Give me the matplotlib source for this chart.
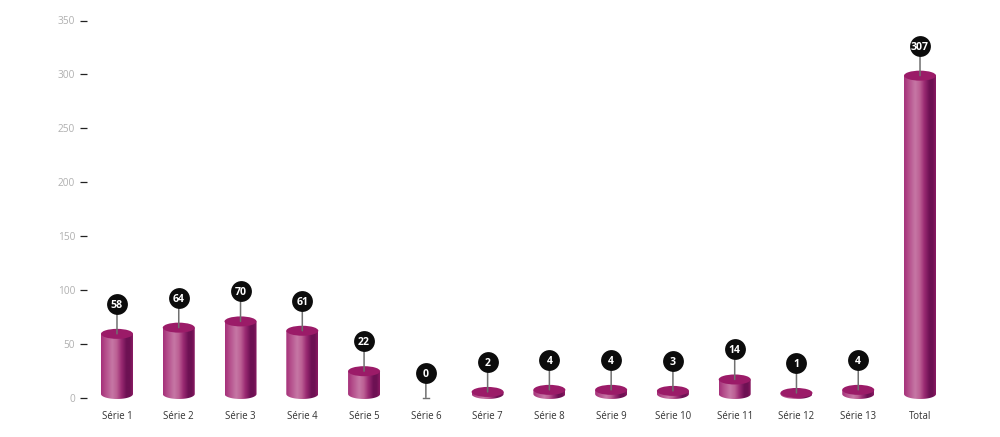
import numpy as np
import matplotlib
matplotlib.use("Agg")
import matplotlib.pyplot as plt
from matplotlib.colors import LinearSegmentedColormap
from matplotlib.patches import Ellipse, PathPatch
from matplotlib.path import Path
from matplotlib.transforms import ScaledTranslation

categories = ["Série 1", "Série 2", "Série 3", "Série 4", "Série 5", "Série 6", "Série 7",
              "Série 8", "Série 9", "Série 10", "Série 11", "Série 12", "Série 13", "Total"]
values = [58, 64, 70, 61, 22, 0, 2, 4, 4, 3, 14, 1, 4, 307]
yticks = [0, 50, 100, 150, 200, 250, 300, 350]

FAMILY = ["Open Sans", "DejaVu Sans"]
W, H = 1000, 437
fig = plt.figure(figsize=(W / 100, H / 100), dpi=100, facecolor="white")

def rect(x0, x1, ytop, ybot):
    return [x0 / W, 1 - ybot / H, (x1 - x0) / W, (ybot - ytop) / H]

# axis frame: 0 at y=398 px, 350 at y=21 px; category 0 at x=117 px
ax = fig.add_axes(rect(87, 950.9, 20.5, 397.5))
ax.set_xlim(-0.486, 13.5)
ax.set_ylim(0, 350)
for s in ax.spines.values():
    s.set_visible(False)
ax.set_yticks(yticks)
ax.set_xticks(range(len(categories)))
ax.set_xticklabels(categories, fontsize=6.9, color="#333333", family=FAMILY)
ax.tick_params(axis="x", length=0, pad=9.5)
ax.tick_params(axis="y", length=5, width=0.9, color="#222222", labelcolor="#b0b0b0",
               labelsize=7.3, pad=3.6)
for lab in ax.get_yticklabels():
    lab.set_family(FAMILY)

# cylinders sit on a slightly shorter scale (perspective): base centre at y=394 px
SCALE = 1.037
BELOW = 10
ax2 = fig.add_axes(rect(86.1, 950.9, 394 - 350 * SCALE, 394 + BELOW * SCALE))
ax2.set_xlim(-0.5, 13.5)
ax2.set_ylim(-BELOW, 350)
ax2.axis("off")
ax2.patch.set_alpha(0)

cmap = LinearSegmentedColormap.from_list("cyl", [
    (0.00, "#a5307a"), (0.15, "#b5508c"), (0.35, "#c677a5"), (0.50, "#bb5e93"),
    (0.64, "#9a2a72"), (0.80, "#6d1153"), (0.90, "#6d1153"), (1.00, "#8a1a62")])
grad = np.linspace(0, 1, 128)[None, :]

half_w = 16 / (864.8 / 14)
rx_y = 5 / SCALE
t = np.linspace(np.pi, 2 * np.pi, 40)
up30 = ScaledTranslation(0, 30 / 100, fig.dpi_scale_trans)
up24 = ScaledTranslation(0, 24.5 / 100, fig.dpi_scale_trans)
STEM = "#707070"
DISC = 225

def pin(axes, i, v, shift):
    tr = axes.transData + shift
    axes.annotate("", (i, v), xycoords="data", xytext=(i, v), textcoords=tr,
                  arrowprops=dict(arrowstyle="-", color=STEM, lw=1.1, shrinkA=0, shrinkB=0),
                  zorder=4, annotation_clip=False)
    axes.scatter([i], [v], s=DISC, color="#0c0c0c", linewidths=0, transform=tr,
                 clip_on=False, zorder=5)
    axes.text(i, v, str(v), transform=tr, ha="center", va="center_baseline", fontsize=7.6,
              fontweight="bold", color="white", family=FAMILY, zorder=6, clip_on=False)

for i, v in enumerate(values):
    if v == 0:
        pin(ax, i, v, up24)
        ax.plot([i - 0.05, i + 0.05], [0, 0], color=STEM, lw=1, clip_on=False, zorder=4)
        continue
    xs = i + half_w * np.cos(t)
    ys = rx_y * np.sin(t)
    verts = np.column_stack([np.r_[i - half_w, xs, i + half_w, i - half_w],
                             np.r_[v, ys, v, v]])
    body = PathPatch(Path(verts, closed=True), fc="none", ec="none", transform=ax2.transData)
    ax2.add_patch(body)
    im = ax2.imshow(grad, cmap=cmap, extent=[i - half_w, i + half_w, -rx_y, v],
                    aspect="auto", zorder=2, interpolation="bilinear")
    im.set_clip_path(body)
    ax2.add_patch(Ellipse((i, v), 2 * half_w, 2 * rx_y, fc="#9b1b68", ec="none", zorder=3))
    pin(ax2, i, v, up30)

ax2.set_xlim(-0.5, 13.5)
ax2.set_ylim(-BELOW, 350)
fig.savefig("out.png", dpi=100)
